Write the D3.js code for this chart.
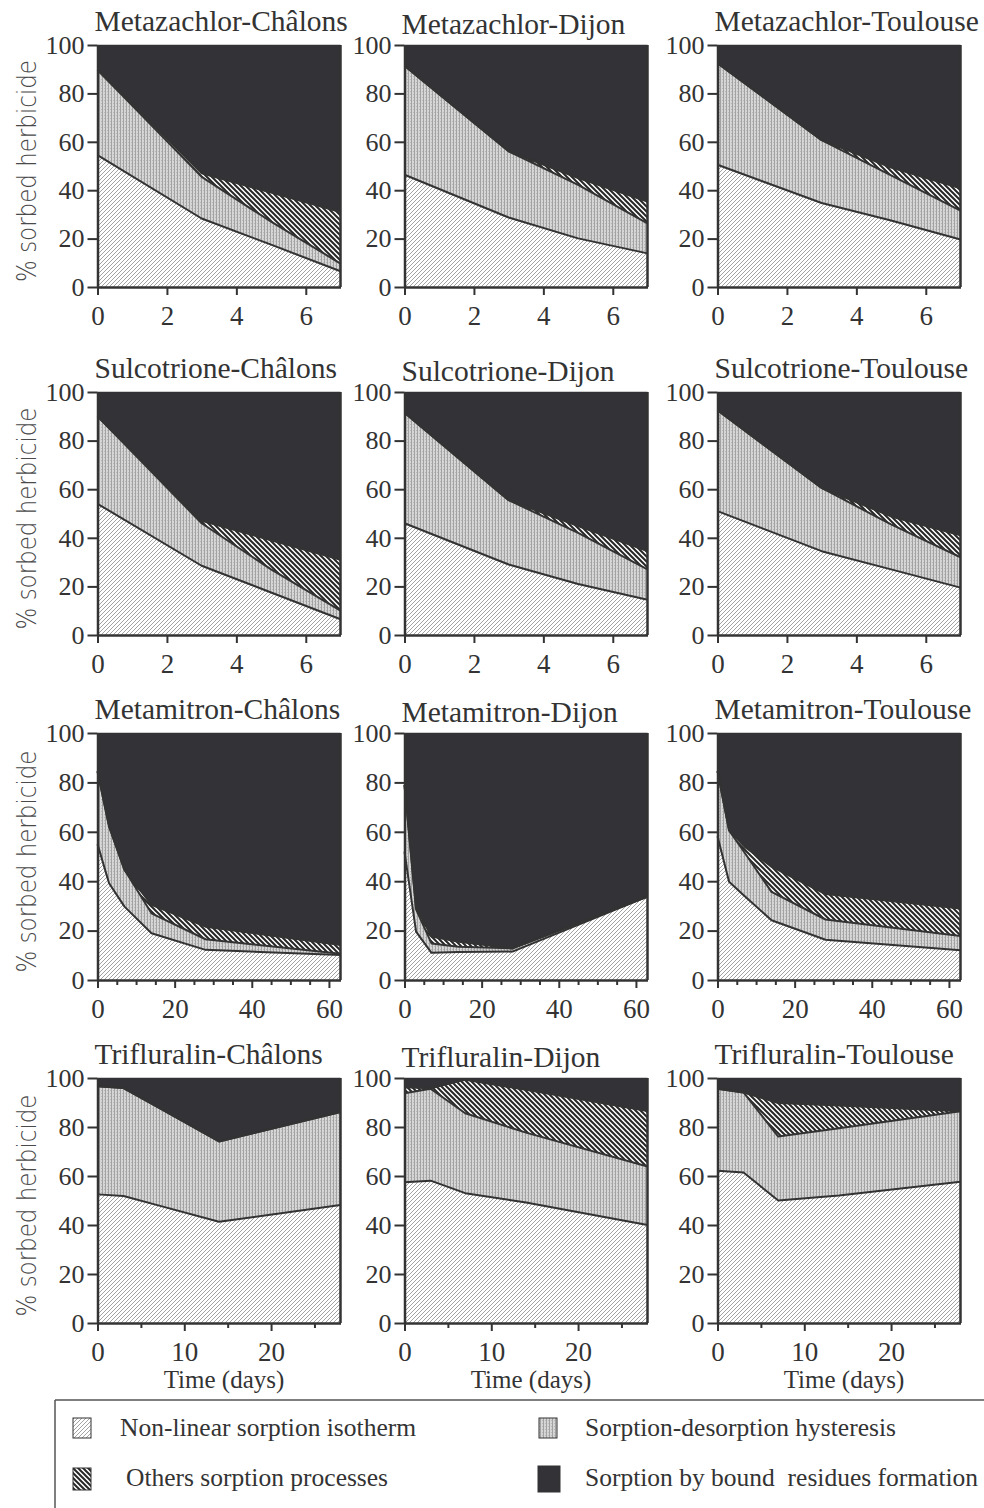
<!DOCTYPE html>
<html><head><meta charset="utf-8">
<script src="https://cdn.jsdelivr.net/npm/d3@7"></script>
<style>body{margin:0;background:#fff} svg{display:block}</style>
</head><body>
<svg id="c" width="984" height="1508"></svg>
<script>
// ---------- DATA ----------
const herbicides = ["Metazachlor", "Sulcotrione", "Metamitron", "Trifluralin"];
const sites = ["Châlons", "Dijon", "Toulouse"];
const shortTimes = [0, 3, 5, 7];
const metamitronTimes = [0, 3, 7, 14, 28, 63];
const trifluralinTimes = [0, 3, 7, 14, 28];
const yTicks = [0, 20, 40, 60, 80, 100];
const shortTicks = [0, 2, 4, 6];
const metamitronTicks = [0, 20, 40, 60];
const metamitronMinor = [5, 10, 15, 25, 30, 35, 45, 50, 55];
const trifluralinTicks = [0, 10, 20];
const trifluralinMinor = [5, 15, 25];
const legendLabels = ["Non-linear sorption isotherm", "Sorption-desorption hysteresis", "Others sorption processes", "Sorption by bound  residues formation"];

// components (% of sorbed herbicide); bound residues = remainder to 100
const metazachlorChalons = { nonLinear: [54.5, 28.3, 17.5, 6.5], hysteresis: [35.2, 17.2, 9.5, 3.2], others: [0, 1.5, 12, 21.3] };
const metazachlorDijon = { nonLinear: [46.4, 28.7, 20.1, 13.9], hysteresis: [45, 27.4, 22.1, 12.4], others: [0, 0, 2.8, 9] };
const metazachlorToulouse = { nonLinear: [50.5, 34.7, 27.5, 19.6], hysteresis: [42, 26, 18.6, 12], others: [0, 0, 3.3, 9.2] };
const sulcotrioneChalons = { nonLinear: [54, 28.5, 17.5, 6.5], hysteresis: [36, 17.5, 9.5, 3.5], others: [0, 1, 12, 21] };
const sulcotrioneDijon = { nonLinear: [46, 29, 21, 14.5], hysteresis: [45.5, 26.5, 21, 12.5], others: [0, 0, 2.8, 7.5] };
const sulcotrioneToulouse = { nonLinear: [51, 34.5, 27, 19.5], hysteresis: [41.5, 26, 18.5, 12.5], others: [0, 0, 3.3, 9] };
const metamitronChalons = { nonLinear: [55, 39.2, 29.7, 18.9, 12.2, 10.1], hysteresis: [29.5, 23, 14.9, 8.1, 4.3, 0.5], others: [0, 0, 0, 3.4, 5.1, 3.6] };
const metamitronDijon = { nonLinear: [52, 19.6, 11, 11.3, 11.5, 33.8], hysteresis: [27, 9, 3.8, 2.2, 1.3, 0], others: [0, 0.7, 2.8, 2, 0, 0] };
const metamitronToulouse = { nonLinear: [58.2, 39.8, 34, 24.2, 16.3, 12], hysteresis: [26.4, 20.8, 17.6, 11.5, 8.2, 5.8], others: [0, 0, 2.4, 10.2, 10.3, 11.1] };
const trifluralinChalons = { nonLinear: [52.5, 51.8, 48, 41.3, 48.2], hysteresis: [44.1, 44.1, 40, 32.8, 37.9], others: [0, 0, 0, 0, 0] };
const trifluralinDijon = { nonLinear: [57.4, 58.1, 53, 49.2, 40], hysteresis: [36.4, 37.5, 32.6, 28.5, 23.9], others: [2.4, 0.2, 13.7, 17.5, 22.6] };
const trifluralinToulouse = { nonLinear: [62.1, 61.4, 50, 52, 57.7], hysteresis: [33.5, 32.7, 26.1, 27.5, 28.7], others: [0, 0, 13.7, 9.3, 0] };

const panelData = [
  [metazachlorChalons, metazachlorDijon, metazachlorToulouse],
  [sulcotrioneChalons, sulcotrioneDijon, sulcotrioneToulouse],
  [metamitronChalons, metamitronDijon, metamitronToulouse],
  [trifluralinChalons, trifluralinDijon, trifluralinToulouse]
];
const rowTimes = [shortTimes, shortTimes, metamitronTimes, trifluralinTimes];
const rowDomains = [[0, 7], [0, 7], [0, 63], [0, 28]];
const rowMajor = [shortTicks, shortTicks, metamitronTicks, trifluralinTicks];
const rowMinor = [[], [], metamitronMinor, trifluralinMinor];

// ---------- LAYOUT ----------
const colLeft = [97.5, 404.5, 717.5];
const plotW = 243;
const rowTop = [45, 392, 733, 1078];
const rowBottom = [287, 635, 980, 1323];
const ink = "#333";
const serif = "'Liberation Serif','Times New Roman',serif";

const svg = d3.select("#c");
const defs = svg.append("defs");
// non-linear: thin "/" hatch
const p1 = defs.append("pattern").attr("id", "pNL").attr("patternUnits", "userSpaceOnUse").attr("width", 4).attr("height", 4);
p1.append("rect").attr("width", 4).attr("height", 4).attr("fill", "#fff");
p1.append("path").attr("d", "M0,4 l4,-4 M-1,1 l2,-2 M3,5 l2,-2").attr("stroke", "#8c8c8c").attr("stroke-width", 0.8);
// hysteresis: fine grey texture
const p2 = defs.append("pattern").attr("id", "pH").attr("patternUnits", "userSpaceOnUse").attr("width", 3).attr("height", 3);
p2.append("rect").attr("width", 3).attr("height", 3).attr("fill", "#d6d6d6");
p2.append("rect").attr("width", 1).attr("height", 3).attr("fill", "#a2a2a2");
p2.append("rect").attr("x", 2).attr("y", 1).attr("width", 1).attr("height", 1).attr("fill", "#b8b8b8");
// others: bold "\" hatch
const p3 = defs.append("pattern").attr("id", "pO").attr("patternUnits", "userSpaceOnUse").attr("width", 5).attr("height", 5);
p3.append("rect").attr("width", 5).attr("height", 5).attr("fill", "#fff");
p3.append("path").attr("d", "M0,0 l5,5 M-1,4 l2,2 M4,-1 l2,2").attr("stroke", "#262626").attr("stroke-width", 2);

const keys = ["nonLinear", "hysteresis", "others", "bound"];
const fills = { nonLinear: "url(#pNL)", hysteresis: "url(#pH)", others: "url(#pO)", bound: "#333236" };

panelData.forEach((row, r) => {
  row.forEach((pd, c) => {
    const left = colLeft[c], right = left + plotW, top = rowTop[r], bottom = rowBottom[r];
    const x = d3.scaleLinear().domain(rowDomains[r]).range([left, right]);
    const y = d3.scaleLinear().domain([0, 100]).range([bottom, top]);
    const rows = rowTimes[r].map((t, i) => ({
      t,
      nonLinear: pd.nonLinear[i],
      hysteresis: pd.hysteresis[i],
      others: pd.others[i],
      bound: 100 - pd.nonLinear[i] - pd.hysteresis[i] - pd.others[i]
    }));
    const series = d3.stack().keys(keys)(rows);
    const g = svg.append("g");
    const area = d3.area().x(d => x(d.data.t)).y0(d => y(d[0])).y1(d => y(d[1]));
    g.selectAll("path.layer").data(series).join("path").attr("class", "layer")
      .attr("d", area).attr("fill", s => fills[s.key]).attr("stroke", s => s.key === "bound" ? "#333236" : "none").attr("stroke-width", 0.5);
    const line = d3.line().x(d => x(d.data.t)).y(d => y(d[1]));
    g.selectAll("path.bd").data(series.slice(0, 3)).join("path").attr("class", "bd")
      .attr("d", line).attr("fill", "none").attr("stroke", ink).attr("stroke-width", 2).attr("stroke-linejoin", "round");
    // right frame
    g.append("line").attr("x1", right).attr("x2", right).attr("y1", top).attr("y2", bottom).attr("stroke", ink).attr("stroke-width", 2.5);
    // y axis
    const ya = g.append("g").attr("transform", `translate(${left},0)`)
      .call(d3.axisLeft(y).tickValues(yTicks).tickSize(10).tickSizeOuter(0).tickPadding(3));
    // x axis
    const xa = g.append("g").attr("transform", `translate(0,${bottom})`)
      .call(d3.axisBottom(x).tickValues(rowMajor[r]).tickFormat(d3.format("d")).tickSize(8).tickSizeOuter(0).tickPadding(11));
    if (rowMinor[r].length) {
      g.append("g").attr("transform", `translate(0,${bottom})`)
        .call(d3.axisBottom(x).tickValues(rowMinor[r]).tickSize(5).tickFormat("").tickSizeOuter(0))
        .call(a => a.select(".domain").remove())
        .selectAll("line").attr("stroke", ink).attr("stroke-width", 2);
    }
    [ya, xa].forEach(a => {
      a.select(".domain").attr("stroke", ink).attr("stroke-width", 2.5);
      a.selectAll(".tick line").attr("stroke", ink).attr("stroke-width", 2);
      a.selectAll("text").attr("fill", ink).attr("font-family", serif);
    });
    ya.selectAll("text").attr("font-size", 26);
    xa.selectAll("text").attr("font-size", 27);
    // title
    svg.append("text").attr("x", left - 3).attr("y", top - (c === 1 ? 11 : 14))
      .attr("font-family", serif).attr("font-size", 29.5).attr("fill", ink)
      .text(`${herbicides[r]}-${sites[c]}`);
    if (c === 0) {
      const cy = (top + bottom) / 2 + 5;
      svg.append("text").attr("transform", `translate(36,${cy}) rotate(-90)`)
        .attr("text-anchor", "middle").attr("font-family", "'DejaVu Sans',sans-serif").attr("font-weight", 300)
        .attr("font-size", 26).attr("fill", "#4a4a4a").attr("textLength", 222).attr("lengthAdjust", "spacingAndGlyphs")
        .text("% sorbed herbicide");
    }
    if (r === 3) {
      svg.append("text").attr("x", (left + right) / 2 + 5).attr("y", 1388).attr("text-anchor", "middle")
        .attr("font-family", serif).attr("font-size", 25).attr("fill", ink).text("Time (days)");
    }
  });
});

// ---------- LEGEND ----------
const lg = svg.append("g");
lg.append("line").attr("x1", 55).attr("x2", 984).attr("y1", 1400).attr("y2", 1400).attr("stroke", "#555").attr("stroke-width", 1.5);
lg.append("line").attr("x1", 55).attr("x2", 55).attr("y1", 1400).attr("y2", 1508).attr("stroke", "#555").attr("stroke-width", 1.5);
const legendItems = [
  { key: "nonLinear", sx: 73, sy: 1418, sw: 18, sh: 20, tx: 120, ty: 1436 },
  { key: "hysteresis", sx: 539, sy: 1418, sw: 18, sh: 20, tx: 585, ty: 1436 },
  { key: "others", sx: 73, sy: 1468, sw: 18, sh: 22, tx: 126, ty: 1486 },
  { key: "bound", sx: 538, sy: 1466, sw: 22, sh: 26, tx: 585, ty: 1486 }
];
legendItems.forEach((it, i) => {
  lg.append("rect").attr("x", it.sx).attr("y", it.sy).attr("width", it.sw).attr("height", it.sh)
    .attr("fill", fills[it.key]).attr("stroke", ink).attr("stroke-width", 1);
  lg.append("text").attr("x", it.tx).attr("y", it.ty).attr("font-family", serif).attr("font-size", 25.5)
    .attr("fill", ink).style("white-space", "pre").text(legendLabels[i]);
});
</script>
</body></html>
